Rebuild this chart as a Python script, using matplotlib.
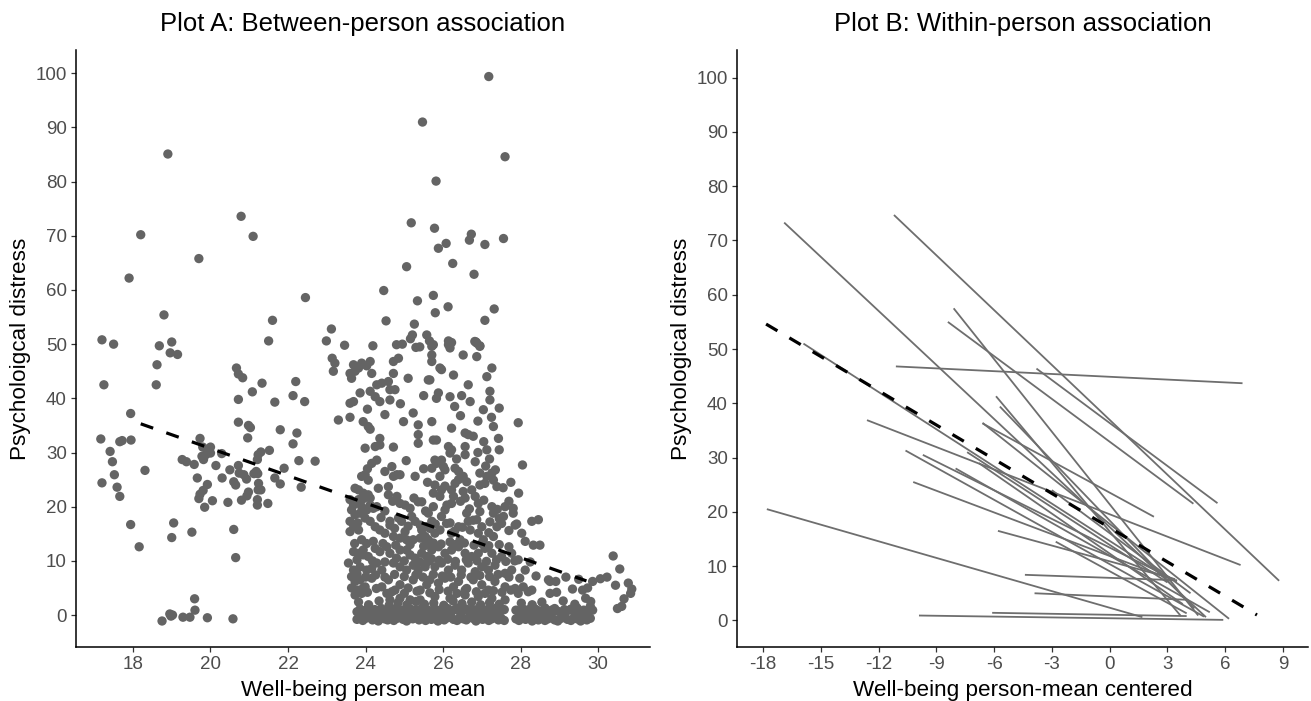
import matplotlib
matplotlib.use("Agg")
import matplotlib.pyplot as plt

plt.rcParams['font.family'] = ['Liberation Sans', 'DejaVu Sans']
plt.rcParams['lines.scale_dashes'] = False
plt.rcParams['axes.unicode_minus'] = False

# ---------------- text ----------------
titles = ["Plot A: Between-person association", "Plot B: Within-person association"]
xlabels = ["Well-being person mean", "Well-being person-mean centered"]
ylabels = ["Psycholoigcal distress", "Psychological distress"]
yticks = [0, 10, 20, 30, 40, 50, 60, 70, 80, 90, 100]
xticks_a = [18, 20, 22, 24, 26, 28, 30]
xticks_b = [-18, -15, -12, -9, -6, -3, 0, 3, 6, 9]

# ---------------- Plot A: (well-being person mean, distress) ----------------
pts_low_wb = [
    (18.9, 85.1), (20.79, 73.6), (21.1, 69.9), (18.2, 70.2), (19.7, 65.8), (17.9, 62.2), (22.45, 58.6),
    (18.8, 55.4), (21.6, 54.4), (17.2, 50.8), (17.5, 50.0), (18.68, 49.7), (19.0, 50.4), (21.5, 50.6),
    (18.96, 48.4), (19.15, 48.1), (18.62, 46.2), (17.25, 42.5), (18.6, 42.5), (20.67, 45.6), (20.72, 44.5),
    (20.83, 43.8), (21.33, 42.8), (22.2, 43.1), (21.08, 41.2), (22.13, 40.5), (20.72, 39.8), (21.66, 39.3),
    (22.43, 39.4), (17.94, 37.2), (20.72, 35.6), (20.98, 35.0), (21.03, 34.6), (21.8, 34.2), (22.23, 33.6),
    (20.96, 32.7), (17.17, 32.5), (17.66, 32.0), (17.72, 32.2), (17.95, 32.3), (19.73, 32.6), (22.13, 31.6),
    (17.41, 30.2), (19.8, 31.0), (19.96, 30.5), (20.0, 31.0), (19.78, 29.3), (19.88, 29.6), (20.0, 29.9),
    (20.29, 29.8), (21.23, 29.6), (21.3, 30.1), (21.52, 30.4), (17.47, 28.3), (19.27, 28.7), (19.38, 28.3),
    (19.58, 27.8), (19.82, 28.7), (20.14, 27.6), (21.21, 28.7), (22.28, 28.5), (22.7, 28.4), (18.31, 26.7),
    (20.5, 26.8), (20.72, 27.6), (21.9, 27.1), (17.52, 25.9), (20.74, 26.2), (20.86, 25.9), (20.93, 25.1),
    (21.12, 26.1), (21.18, 26.5), (21.22, 26.1), (19.66, 25.3), (20.3, 25.3), (21.66, 25.3), (21.8, 24.2),
    (17.2, 24.4), (20.6, 24.6), (20.65, 24.0), (21.24, 24.3), (17.59, 23.6), (17.66, 21.9), (19.92, 24.1),
    (22.34, 23.6), (19.81, 23.0), (19.73, 22.3), (19.7, 21.5), (20.98, 22.7), (20.94, 22.0), (21.23, 23.1),
    (21.3, 23.1), (20.8, 21.2), (20.05, 21.1), (20.45, 20.8), (19.85, 19.9), (21.21, 21.3), (21.21, 20.3),
    (21.48, 20.6), (17.94, 16.7), (19.05, 17.0), (19.0, 14.3), (19.52, 15.3), (20.6, 15.8), (18.16, 12.6),
    (20.65, 10.6), (19.59, 3.0), (19.6, 0.9), (18.95, 0.2), (19.02, 0.0), (18.98, -0.2), (19.29, -0.4),
    (19.47, -0.4), (19.92, -0.5), (18.75, -1.1), (20.58, -0.7),
]

pts_upper = [
    (25.47, 91.0), (25.82, 80.1), (27.18, 99.4), (27.6, 84.6), (25.18, 72.4), (25.78, 71.4), (26.73, 70.3),
    (26.68, 69.2), (26.08, 68.6), (25.88, 67.7), (27.08, 68.4), (27.56, 69.5), (26.25, 64.9), (25.06, 64.3),
    (26.8, 62.9), (24.47, 59.9), (25.75, 59.0), (25.34, 58.0), (26.13, 56.9), (27.32, 56.5), (25.8, 55.8),
    (24.53, 54.3), (27.08, 54.4), (23.12, 52.8), (25.26, 53.7), (22.99, 50.6), (23.46, 49.8), (24.19, 49.7),
    (24.8, 49.9), (24.95, 50.0), (25.16, 51.0), (25.21, 51.7), (25.58, 51.7), (25.65, 50.6), (25.75, 49.9),
    (26.14, 50.6), (26.22, 50.3), (26.85, 50.4), (25.3, 49.4), (25.4, 49.5), (26.82, 50.5), (26.95, 49.7),
]

pts_core_a = [
    (23.14, 47.4), (23.21, 46.5), (23.17, 45.0), (23.69, 46.2), (23.82, 45.6), (23.9, 46.5), (24.03, 46.0),
    (24.12, 46.8), (23.6, 44.6), (23.73, 45.0), (23.64, 43.7), (24.16, 44.6), (24.72, 46.8), (24.85, 47.4),
    (24.72, 44.6), (24.29, 42.5), (24.42, 42.8), (24.59, 43.1), (24.63, 41.6), (24.76, 41.6), (24.12, 41.3),
    (24.25, 40.3), (24.37, 39.4), (23.86, 41.0), (23.69, 39.4), (23.6, 39.1), (24.63, 39.7), (25.1, 43.7),
    (25.62, 43.4), (25.23, 37.3), (23.3, 36.0), (23.6, 36.5), (23.94, 35.7), (24.07, 34.8), (24.12, 34.3),
    (24.98, 35.7), (25.36, 35.1), (25.36, 33.3), (25.36, 31.7), (24.37, 32.6), (23.99, 30.8), (24.25, 31.1),
    (24.37, 31.4), (24.72, 31.0), (24.29, 28.6), (24.16, 28.0), (24.68, 27.4), (24.81, 25.9), (24.72, 25.6),
    (24.89, 25.9), (25.28, 25.6), (23.9, 25.6), (23.99, 25.9), (24.07, 24.9), (23.73, 23.4), (23.82, 23.1),
    (23.94, 22.5), (24.07, 22.2), (24.12, 21.6), (24.33, 23.4), (24.59, 23.7), (24.59, 22.2), (24.81, 21.9),
    (24.89, 20.6), (25.02, 20.3), (25.15, 19.7), (23.6, 21.3), (23.69, 20.3), (23.64, 19.4), (23.73, 18.5),
    (23.6, 17.3), (23.69, 16.6), (23.82, 21.3), (23.9, 20.0), (24.03, 19.4), (24.12, 20.3), (24.2, 19.7),
    (24.29, 20.0), (25.36, 20.9), (25.45, 20.9), (23.86, 18.8), (23.99, 17.9), (24.12, 17.3), (24.25, 16.3),
    (24.37, 15.7), (24.5, 15.1), (24.63, 17.3), (24.63, 16.6), (23.6, 15.4), (23.82, 15.7), (23.9, 13.9),
    (24.03, 13.2), (23.94, 12.0), (24.85, 17.9), (24.93, 17.3), (25.02, 15.4), (25.19, 18.2), (25.28, 17.3),
    (25.41, 16.6), (25.58, 16.3), (24.72, 14.5), (24.89, 14.2), (25.06, 13.9), (25.23, 13.9), (25.41, 14.2),
    (25.58, 13.9), (23.69, 11.7), (23.82, 11.4), (23.94, 11.1), (24.07, 10.8), (24.25, 12.3), (24.37, 11.7),
    (24.55, 12.6), (24.63, 11.4), (24.89, 12.0), (25.06, 12.0), (25.15, 11.1), (25.28, 10.5), (25.45, 11.4),
    (25.58, 10.8), (23.56, 9.6), (23.69, 8.3), (23.86, 8.9), (24.03, 8.3), (24.16, 8.6), (24.29, 9.6),
    (24.42, 8.3), (24.72, 9.6), (24.89, 8.9), (25.06, 8.3), (25.23, 9.2), (25.36, 8.3), (25.54, 8.9),
    (23.64, 7.1), (23.73, 6.2), (23.86, 6.5), (23.99, 5.2), (24.16, 6.8), (23.64, 5.0), (23.73, 3.7),
    (23.9, 4.0), (23.94, 5.0), (24.42, 5.2), (24.55, 4.0), (24.59, 6.5), (24.76, 4.6), (24.89, 5.6),
    (25.1, 5.0), (25.23, 6.5), (25.41, 4.6), (25.58, 5.6), (24.63, 2.8), (24.89, 3.1), (25.15, 2.8), (25.41, 2.8),
]

pts_core_b = [
    (25.71, 49.6), (25.71, 48.0), (25.71, 46.8), (26.14, 49.9), (26.18, 49.3), (26.87, 50.2), (26.95, 49.6),
    (26.52, 48.0), (26.87, 47.7), (25.96, 45.3), (25.92, 45.6), (26.27, 44.3), (25.66, 43.4), (27.26, 45.6),
    (27.13, 44.0), (25.88, 41.0), (25.83, 40.0), (26.18, 40.3), (26.48, 40.5), (26.7, 39.4), (27.21, 41.3),
    (27.21, 39.7), (27.04, 37.9), (25.71, 35.7), (26.22, 34.5), (26.57, 33.6), (26.65, 33.3), (26.78, 33.0),
    (27.3, 34.8), (27.94, 35.5), (27.43, 32.6), (25.75, 32.3), (25.83, 32.3), (26.14, 31.1), (26.22, 30.5),
    (26.18, 29.9), (26.57, 31.1), (26.57, 29.6), (27.13, 30.5), (25.79, 28.6), (25.96, 28.6), (25.83, 28.0),
    (26.01, 27.4), (25.71, 27.1), (26.05, 26.8), (26.83, 28.3), (26.31, 27.1), (26.4, 26.5), (26.52, 25.6),
    (26.4, 25.0), (26.31, 24.3), (26.61, 24.6), (28.05, 27.7), (26.95, 26.2), (27.13, 25.6), (27.26, 26.2),
    (27.08, 24.3), (27.3, 24.9), (27.39, 23.7), (25.92, 25.6), (25.79, 24.0), (25.75, 22.5), (25.92, 21.9),
    (25.96, 23.1), (25.75, 20.0), (26.22, 23.1), (26.27, 21.9), (26.22, 20.6), (26.52, 22.8), (26.57, 21.6),
    (26.74, 23.1), (26.83, 21.9), (26.91, 20.6), (26.95, 19.1), (26.87, 17.6), (27.0, 16.3), (26.91, 15.1),
    (27.04, 13.9), (27.26, 20.0), (27.3, 18.8), (27.21, 17.2), (27.39, 16.3), (27.3, 14.5), (27.6, 20.0),
    (27.56, 18.2), (27.51, 16.9), (27.81, 19.7), (27.81, 18.8), (27.86, 16.6), (25.62, 18.8), (25.71, 17.3),
    (25.66, 16.0), (25.79, 15.1), (25.62, 13.9), (26.05, 19.4), (25.96, 18.2), (26.09, 16.9), (25.92, 15.7),
    (26.22, 15.1), (26.4, 16.3), (26.61, 18.8), (26.65, 17.3), (26.7, 15.7), (26.44, 13.9), (28.29, 17.3),
    (28.46, 17.6), (28.12, 13.6), (28.33, 12.9), (28.5, 12.9), (28.03, 15.1), (25.54, 14.5), (25.58, 13.0),
    (25.71, 12.0), (25.88, 12.6), (26.05, 11.4), (26.22, 12.0), (26.4, 12.6), (26.57, 11.4), (26.74, 10.8),
    (26.91, 11.4), (27.08, 12.3), (27.26, 11.4), (27.51, 10.8), (27.77, 11.4), (27.94, 10.2), (25.62, 9.9),
    (25.79, 8.9), (25.96, 9.6), (26.14, 8.3), (26.31, 9.2), (26.48, 8.3), (26.65, 9.6), (26.83, 8.0),
    (27.0, 8.9), (27.17, 8.3), (27.34, 9.2), (27.6, 7.7), (27.77, 8.3), (28.12, 8.3), (25.66, 6.5),
    (25.88, 5.9), (26.05, 6.8), (26.27, 5.2), (26.4, 6.2), (26.61, 4.9), (26.78, 6.5), (27.0, 5.6),
    (27.17, 4.6), (27.34, 6.2), (27.6, 5.2), (27.86, 4.9), (28.07, 5.2), (28.29, 4.6), (28.76, 6.2),
    (25.79, 3.4), (26.18, 3.1), (26.57, 3.7), (26.91, 3.4), (27.26, 3.1), (27.6, 2.8), (27.94, 4.0),
    (28.72, 6.5), (28.76, 4.0),
]

pts_core_fill = [
    (23.82, 2.4), (24.08, 1.9), (24.35, 2.6), (24.61, 1.8), (24.84, 2.3), (25.07, 1.9), (25.3, 2.5),
    (25.52, 2.0), (25.76, 2.2), (26.02, 1.8), (26.26, 2.6), (26.49, 2.1), (26.74, 2.4), (26.97, 1.9),
    (27.2, 2.3), (27.45, 2.0), (28.02, 2.2), (28.3, 1.9), (28.55, 2.4),
    (23.8, 4.6), (24.05, 4.2), (24.28, 4.9), (24.68, 4.3), (25.0, 4.0), (25.33, 4.4), (25.66, 4.1),
    (25.9, 4.7), (26.13, 4.4), (26.36, 4.0), (26.57, 4.6), (26.86, 4.3), (27.08, 4.0), (27.3, 4.5),
    (27.52, 4.2), (27.75, 4.6), (28.2, 4.3),
    (23.78, 7.6), (24.0, 7.0), (24.26, 7.4), (24.5, 7.0), (24.75, 7.5), (25.0, 7.1), (25.3, 7.4),
    (25.48, 7.0), (25.75, 7.5), (25.98, 7.2), (26.2, 7.0), (26.47, 7.4), (26.72, 7.0), (26.95, 7.3),
    (27.2, 7.1), (27.42, 7.5), (27.7, 7.0), (27.98, 6.8), (28.4, 7.2),
    (23.78, 10.2), (24.18, 10.0), (24.5, 9.8), (24.8, 10.5), (25.0, 10.0), (25.4, 9.8), (25.7, 10.4),
    (25.9, 10.1), (26.12, 10.3), (26.32, 9.9), (26.6, 10.2), (26.88, 10.0), (27.12, 9.9), (27.38, 10.2),
    (27.62, 9.9), (27.85, 10.0), (28.25, 9.8),
    (23.72, 13.2), (24.2, 13.6), (24.45, 13.2), (24.78, 12.9), (25.15, 13.0), (25.5, 12.7), (25.75, 13.3),
    (25.95, 13.1), (26.18, 13.5), (26.32, 13.0), (26.55, 13.3), (26.8, 12.9), (27.0, 13.2), (27.18, 12.8),
    (27.45, 13.0), (27.7, 12.6),
    (23.8, 17.0), (24.4, 18.0), (24.75, 16.0), (25.1, 16.4), (25.45, 15.7), (25.8, 16.8), (26.18, 17.0),
    (26.3, 15.5), (26.5, 16.2), (26.78, 17.5), (27.18, 15.2), (27.45, 17.8), (27.7, 15.6), (27.9, 16.8),
    (23.95, 21.5), (24.5, 19.2), (24.7, 21.0), (25.25, 21.6), (25.55, 19.2), (26.1, 20.3), (26.45, 21.0),
    (26.68, 19.6), (27.05, 21.2), (27.4, 19.5), (27.7, 21.0),
    (24.05, 27.0), (24.5, 26.5), (25.05, 28.5), (25.5, 27.0), (25.6, 24.5), (26.05, 23.8), (26.35, 28.8),
    (26.95, 24.0), (27.1, 27.5), (27.35, 26.8), (27.55, 23.5), (27.75, 24.5), (27.95, 22.5),
    (26.9, 30.0), (27.05, 32.0), (27.2, 28.8), (27.45, 30.5), (27.25, 36.5), (26.9, 35.8), (26.45, 36.8),
    (27.45, 38.2), (26.65, 42.5), (26.3, 38.5), (24.5, 37.0), (24.9, 39.0), (25.5, 40.5), (24.05, 38.0),
]

pts_high_wb = [
    (30.39, 10.9), (30.56, 8.5), (30.78, 5.9), (30.87, 4.8), (30.84, 4.0), (30.5, 1.2), (30.61, 1.6),
    (30.67, 3.0), (30.45, 5.5), (30.23, 7.0), (30.06, 6.7), (29.86, 6.2), (29.17, 7.0), (28.91, 6.2),
    (28.93, 4.2), (29.34, 4.8), (29.6, 4.6), (29.73, 5.0), (29.68, 3.1), (29.81, 2.5), (29.8, 1.6),
    (29.86, 0.9), (29.5, 6.6), (29.1, 2.6), (29.4, 2.0),
]

floor_x = [23.78, 23.86, 23.93, 24.01, 24.1, 24.18, 24.24, 24.33, 24.41, 24.49, 24.57, 24.66,
           24.73, 24.82, 24.9, 24.97, 25.06, 25.14, 25.22, 25.3, 25.38, 25.46, 25.55, 25.62,
           25.7, 25.79, 25.87, 25.95, 26.03, 26.12, 26.2, 26.27, 26.36, 26.44, 26.52, 26.6,
           26.69, 26.77, 26.85, 26.93, 27.02, 27.1, 27.18, 27.26, 27.34, 27.43, 27.5, 27.58,
           27.88, 27.96, 28.05, 28.13, 28.21, 28.3, 28.38, 28.46, 28.55, 28.63, 28.71, 28.8,
           28.88, 28.96, 29.05, 29.13, 29.21, 29.3, 29.38, 29.46, 29.55, 29.63, 29.71, 29.8]
floor_y_low = [-0.8, -0.4, -1.0, -0.6, -0.2, -0.9, -0.5, -1.1, -0.3, -0.7, -0.9, -0.4,
               -1.0, -0.6, -0.3, -0.8, -1.1, -0.5, -0.7, -0.2, -0.9, -0.6, -1.0, -0.4,
               -0.8, -0.3, -1.1, -0.6, -0.9, -0.5, -0.2, -0.8, -1.0, -0.4, -0.7, -0.9,
               -0.3, -0.6, -1.1, -0.5, -0.8, -0.4, -1.0, -0.7, -0.3, -0.9, -0.6, -1.0,
               -0.7, -1.0, -0.4, -0.8, -0.6, -1.1, -0.3, -0.9, -0.5, -1.0, -0.7, -0.4,
               -0.9, -1.1, -0.6, -0.3, -0.8, -1.0, -0.5, -0.7, -1.1, -0.4, -0.9, -0.6]
floor_y_high = [0.6, 1.1, 0.4, 0.9, 1.3, 0.5, 1.0, 0.7, 1.2, 0.3, 0.8, 1.1,
                0.5, 1.4, 0.7, 0.9, 0.4, 1.2, 0.6, 1.0, 0.8, 1.3, 0.4, 0.9,
                0.6, 1.1, 0.3, 1.0, 0.7, 1.2, 0.5, 0.9, 1.3, 0.6, 0.8, 1.1,
                0.4, 1.0, 0.7, 1.3, 0.5, 0.9, 1.1, 0.6, 1.2, 0.4, 0.8, 1.0,
                0.9, 0.5, 1.2, 0.7, 1.0, 0.4, 1.1, 0.8, 0.6, 1.3, 0.5, 0.9,
                1.2, 0.7, 0.4, 1.0, 0.8, 1.1, 0.6, 1.3, 0.5, 0.9, 0.7, 1.0]

# fixed-effect line, Plot A
fit_a_x = [18.2, 29.7]
fit_a_y = [35.3, 6.3]

# ---------------- Plot B: person-specific lines (centered well-being) ----------------
seg_x0 = [-16.9, -11.2, -8.1, -8.4, -3.8, -11.1, -6.6, -5.9, -5.7, -12.6, -17.8, -10.6, -9.7,
          -10.2, -5.8, -2.8, -4.4, -3.9, -9.9, -6.1, -7.4, -6.6, -15.9, -8.0, -3.0, -6.8]
seg_y0 = [73.3, 74.7, 57.5, 55.0, 46.4, 46.8, 36.3, 41.3, 39.4, 36.9, 20.5, 31.3, 30.5,
          25.5, 16.5, 14.5, 8.4, 5.0, 0.9, 1.4, 31.0, 36.4, 51.0, 28.0, 24.0, 29.0]
seg_x1 = [5.0, 8.8, 4.6, 4.35, 5.6, 6.9, 2.3, 3.7, 4.4, 6.8, 1.7, 4.9, 3.3,
          3.5, 3.4, 4.0, 3.5, 4.0, 5.9, 4.0, 3.0, 6.2, 3.0, 5.2, 4.2, 3.8]
seg_y1 = [0.6, 7.3, 0.9, 21.5, 21.6, 43.7, 19.1, 0.8, 2.2, 10.2, 0.6, 0.7, 7.6,
          7.2, 7.6, 1.3, 7.4, 3.8, 0.1, 0.8, 7.0, 0.3, 7.8, 1.5, 5.0, 3.0]

# fixed-effect line, Plot B
fit_b_x = [-17.84, 7.65]
fit_b_y = [54.6, 1.0]

# ---------------- drawing ----------------
W, H = 1311, 701
fig = plt.figure(figsize=(W / 100, H / 100), dpi=100)
ax1 = fig.add_axes([76 / W, 1 - 647 / H, (650 - 76) / W, (647 - 50) / H])
ax2 = fig.add_axes([737 / W, 1 - 647 / H, (1308 - 737) / W, (647 - 50) / H])

dot_color = '#646464'
line_color = '#6e6e6e'
dot_size = 45

groups = [pts_low_wb, pts_upper, pts_core_a, pts_core_b, pts_core_fill, pts_high_wb]
for g in groups:
    ax1.scatter([p[0] for p in g], [p[1] for p in g], s=dot_size, color=dot_color,
                edgecolors='none', zorder=2)
ax1.scatter(floor_x, floor_y_low, s=dot_size, color=dot_color, edgecolors='none', zorder=2)
ax1.scatter(floor_x, floor_y_high, s=dot_size, color=dot_color, edgecolors='none', zorder=2)
ax1.plot(fit_a_x, fit_a_y, color='black', lw=2.3, dashes=(9.5, 10), zorder=3)

for x0, y0, x1, y1 in zip(seg_x0, seg_y0, seg_x1, seg_y1):
    ax2.plot([x0, x1], [y0, y1], color=line_color, lw=1.3, solid_capstyle='butt', zorder=2)
ax2.plot(fit_b_x, fit_b_y, color='black', lw=2.3, dashes=(9.5, 10), zorder=3)

ax1.set_xlim(16.53, 31.34)
ax1.set_ylim(-5.9, 104.3)
ax2.set_xlim(-19.35, 10.3)
ax2.set_ylim(-4.9, 105.1)

for ax, t, xl, yl, xt in zip([ax1, ax2], titles, xlabels, ylabels, [xticks_a, xticks_b]):
    for s in ['top', 'right']:
        ax.spines[s].set_visible(False)
    for s in ['left', 'bottom']:
        ax.spines[s].set_linewidth(1.1)
        ax.spines[s].set_color('black')
    ax.set_xticks(xt)
    ax.set_yticks(yticks)
    ax.tick_params(axis='both', length=3.5, width=0.9, color='#333333',
                   labelsize=13.5, labelcolor='#4d4d4d', pad=3)
    ax.set_title(t, fontsize=18.5, pad=14, color='black')
    ax.set_xlabel(xl, fontsize=16.2, labelpad=5, color='black')
    ax.set_ylabel(yl, fontsize=16.2, labelpad=3, color='black')

fig.savefig('out.png', dpi=100)
